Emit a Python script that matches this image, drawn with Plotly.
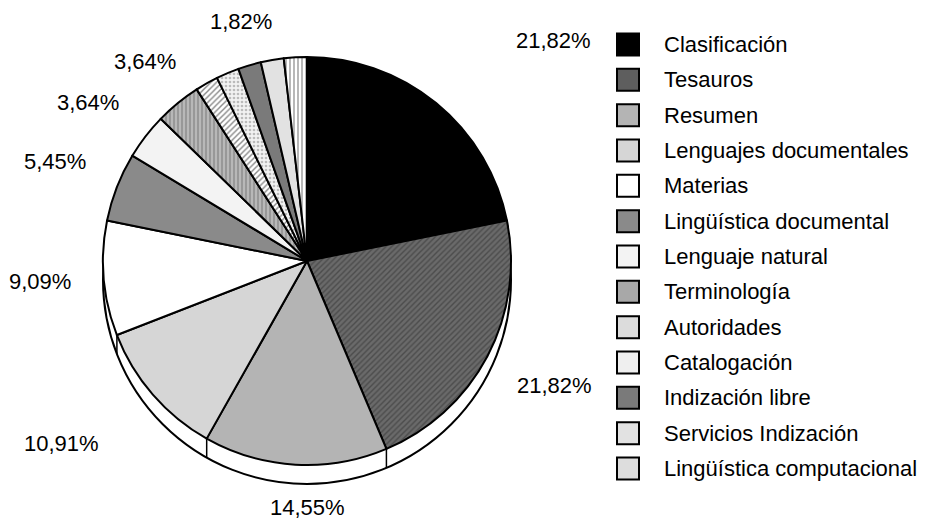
import math
import plotly.graph_objects as go

# ---------------- data ----------------
categories = ["Clasificación", "Tesauros", "Resumen", "Lenguajes documentales",
              "Materias", "Lingüística documental", "Lenguaje natural", "Terminología",
              "Autoridades", "Catalogación", "Indización libre", "Servicios Indización",
              "Lingüística computacional"]
counts = [12, 12, 8, 6, 5, 3, 2, 2, 1, 1, 1, 1, 1]
labelled = ["Clasificación", "Tesauros", "Resumen", "Lenguajes documentales", "Materias",
            "Lingüística documental", "Lenguaje natural", "Terminología", "Indización libre"]

# ---------------- style ----------------
PAGE_OFF = 8                       # default body margin of the html page
W, H = 928 - PAGE_OFF, 532 - 2 * PAGE_OFF
CX, CY, R = 307, 261, 204          # pie centre / radius in window pixels
DEPTH = 19                         # 3-D rim thickness
FONT = "Liberation Sans"

fills = ["#000000", "#6a6a6a", "#b4b4b4", "#d6d6d6", "#ffffff", "#8a8a8a", "#f3f3f3",
         "#b8b8b8", "#ffffff", "#f2f2f2", "#7a7a7a", "#e2e2e2", "#ffffff"]
pat_shapes = ["", "/", "", "", "", "", "", "|", "/", ".", "", "", "|"]
pat_fg = ["#000000", "#4c4c4c", "#000000", "#000000", "#000000", "#000000", "#000000",
          "#8a8a8a", "#888888", "#bbbbbb", "#000000", "#000000", "#999999"]
legend_fills = ["#000000", "#5e5e5e", "#b4b4b4", "#d6d6d6", "#ffffff", "#8a8a8a", "#f3f3f3",
                "#a8a8a8", "#dcdcdc", "#efefef", "#7a7a7a", "#e2e2e2", "#dddddd"]
label_nudge = {"Clasificación": (58, -24), "Lenguajes documentales": (-28, 14),
               "Terminología": (20, -3), "Resumen": (14, -3)}


def px(x):
    return (x - PAGE_OFF) / W


def py(y):
    return 1 - (y - PAGE_OFF) / H


total = sum(counts)

fig = go.Figure(go.Pie(
    labels=categories, values=counts, sort=False, direction="clockwise", rotation=0,
    textinfo="none", hoverinfo="label+percent",
    marker=dict(colors=fills, line=dict(color="#000000", width=2),
                pattern=dict(shape=pat_shapes, fgcolor=pat_fg, bgcolor=fills,
                             fillmode="replace", size=4, solidity=0.35)),
    domain=dict(x=[px(CX - R), px(CX + R)], y=[py(CY + R), py(CY - R)]),
))

shapes = []
# 3-D rim: a white disc shifted down, drawn beneath the pie
shapes.append(dict(type="circle", xref="paper", yref="paper", layer="below",
                   x0=px(CX - R), x1=px(CX + R), y0=py(CY + R + DEPTH), y1=py(CY - R + DEPTH),
                   fillcolor="#ffffff", line=dict(color="#000000", width=2)))
cum = 0
for v in counts:
    cum += v
    ang = cum / total * 360
    if 90 < ang < 270:
        bx = CX + R * math.sin(math.radians(ang))
        by = CY - R * math.cos(math.radians(ang))
        shapes.append(dict(type="line", xref="paper", yref="paper", layer="below",
                           x0=px(bx), x1=px(bx), y0=py(by), y1=py(by + DEPTH),
                           line=dict(color="#000000", width=1.5)))

annotations = []
# percentage labels
LR = 235
cum = 0
for name, v in zip(categories, counts):
    mid = (cum + v / 2) / total * 360
    cum += v
    if name not in labelled:
        continue
    dx, dy = math.sin(math.radians(mid)), -math.cos(math.radians(mid))
    x, y = CX + LR * dx, CY + LR * dy
    nx, ny = label_nudge.get(name, (0, 0))
    xa = "left" if dx > 0.3 else ("right" if dx < -0.3 else "center")
    ya = "bottom" if dy < -0.3 else ("top" if dy > 0.3 else "middle")
    txt = f"{v / total * 100:.2f}%".replace(".", ",")
    annotations.append(dict(x=px(x + nx), y=py(y + ny), xref="paper", yref="paper",
                            text=txt, showarrow=False, xanchor=xa, yanchor=ya,
                            font=dict(family=FONT, size=22, color="#000000")))

# legend (drawn manually for large swatches / spacing)
LX, LY0, LSTEP, SW = 617, 44.5, 35.33, 22
for i, name in enumerate(categories):
    yc = LY0 + i * LSTEP
    shapes.append(dict(type="rect", xref="paper", yref="paper",
                       x0=px(LX), x1=px(LX + SW), y0=py(yc + SW / 2), y1=py(yc - SW / 2),
                       fillcolor=legend_fills[i], line=dict(color="#000000", width=2)))
    annotations.append(dict(x=px(662), y=py(yc), xref="paper", yref="paper", text=name,
                            showarrow=False, xanchor="left", yanchor="middle",
                            font=dict(family=FONT, size=22, color="#000000")))

fig.update_layout(width=W, height=H, autosize=False, showlegend=False,
                  margin=dict(l=0, r=0, t=0, b=0),
                  paper_bgcolor="#ffffff", plot_bgcolor="#ffffff",
                  shapes=shapes, annotations=annotations,
                  font=dict(family=FONT, color="#000000"))

fig.write_html("out.html")
